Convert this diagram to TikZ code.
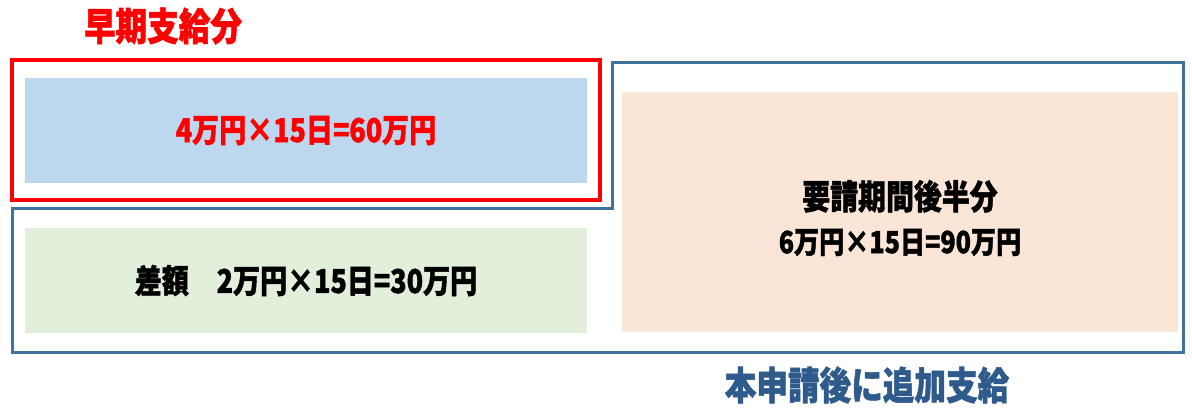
\documentclass[tikz,border=0pt]{standalone}
\usepackage{fontspec}
\setmainfont{Noto Sans CJK JP}[BoldFeatures={FakeBold=1.5}]
\newcommand{\sq}[1]{\scalebox{0.93}[1.13]{#1}}
\definecolor{fbred}{HTML}{FF0000}
\definecolor{fbblue}{HTML}{BDD7EE}
\definecolor{fbgreen}{HTML}{E2EFDA}
\definecolor{fbpeach}{HTML}{FBE5D6}
\definecolor{lineblue}{HTML}{41719C}
\definecolor{textblue}{HTML}{2E5B8C}
\tikzset{
  fillbox/.style={fill=#1, draw=none, inner sep=0pt, outer sep=0pt, font=\bfseries\fontsize{29}{35}\selectfont, align=center},
  frame/.style={draw=fbred, line width=4pt, fill=none, inner sep=0pt, outer sep=0pt},
  outline/.style={draw=lineblue, line width=3pt, line join=miter},
  heading/.style={inner sep=0pt, font=\bfseries\fontsize{34}{38}\selectfont}
}
\begin{document}
\begin{tikzpicture}[x=1pt,y=-1pt]
\useasboundingbox[fill=white] (0,0) rectangle (1192,412);
% L-shaped blue outline
\draw[outline] (12,208) -- (612,208) -- (612,63) -- (1183,63) -- (1183,352) -- (12,352) -- cycle;
% red frame
\node[frame, minimum width=588pt, minimum height=140pt] (redframe) at (306,130) {};
% filled boxes
\node[fillbox=fbblue, text=fbred, minimum width=562pt, minimum height=105pt] (early) at (306,130.5) {\sq{4万円×15日=60万円}};
\node[fillbox=fbgreen, text=black, minimum width=562pt, minimum height=105pt] (diff) at (306,280.5) {\sq{差額\hspace{30pt}2万円×15日=30万円}};
\node[fillbox=fbpeach, minimum width=556pt, minimum height=240pt] (late) at (900,212) {};
\node[inner sep=0pt, align=center, text=black, font=\bfseries\fontsize{27}{44}\selectfont] (latetext) at (900,218) {\sq{\fontsize{30}{34}\selectfont 要請期間後半分}\\\sq{6万円×15日=90万円}};
% headings
\node[heading, text=fbred] (title) at (163,26) {\sq{早期支給分}};
\node[heading, text=textblue] (extra) at (867,385) {\sq{本申請後に追加支給}};
\end{tikzpicture}
\end{document}
